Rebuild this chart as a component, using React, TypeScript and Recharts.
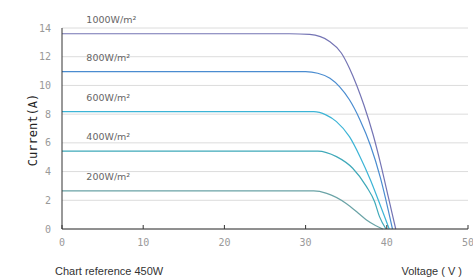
import React from "react";
import { LineChart, Line, XAxis, YAxis, CartesianGrid, ReferenceDot } from "recharts";

const xTicks = [0, 10, 20, 30, 40, 50];
const yTicks = [0, 2, 4, 6, 8, 10, 12, 14];

const curve1000 = [
  { v: 0, i: 13.6 }, { v: 28, i: 13.6 }, { v: 30.5, i: 13.55 }, { v: 33, i: 13.05 },
  { v: 34.4, i: 12.26 }, { v: 35.4, i: 11.2 }, { v: 36.3, i: 10.0 }, { v: 37.2, i: 8.6 },
  { v: 38.3, i: 6.6 }, { v: 39.3, i: 4.4 }, { v: 40.2, i: 2.2 }, { v: 41.1, i: 0 },
];
const curve800 = [
  { v: 0, i: 10.96 }, { v: 30, i: 10.96 }, { v: 31.5, i: 10.85 }, { v: 33, i: 10.5 },
  { v: 34.2, i: 9.9 }, { v: 35.4, i: 9.0 }, { v: 36.7, i: 7.6 }, { v: 38, i: 5.8 },
  { v: 39.2, i: 3.6 }, { v: 40.7, i: 0 },
];
const curve600 = [
  { v: 0, i: 8.17 }, { v: 31, i: 8.17 }, { v: 32.5, i: 7.95 }, { v: 33.8, i: 7.48 },
  { v: 35.4, i: 6.43 }, { v: 36.7, i: 5.04 }, { v: 38, i: 3.4 }, { v: 39.3, i: 1.5 },
  { v: 40.3, i: 0 },
];
const curve400 = [
  { v: 0, i: 5.43 }, { v: 31.5, i: 5.43 }, { v: 33.8, i: 5.04 }, { v: 35.8, i: 4.23 },
  { v: 37.5, i: 2.95 }, { v: 38.5, i: 1.9 }, { v: 39.1, i: 0.86 }, { v: 39.9, i: 0 },
];
const curve200 = [
  { v: 0, i: 2.65 }, { v: 31, i: 2.65 }, { v: 32.6, i: 2.48 }, { v: 35, i: 1.78 },
  { v: 36.5, i: 1.1 }, { v: 37.5, i: 0.63 }, { v: 38.6, i: 0.25 }, { v: 39.5, i: 0 },
];

const seriesNames = ["1000W/m²", "800W/m²", "600W/m²", "400W/m²", "200W/m²"];
const seriesData = [curve1000, curve800, curve600, curve400, curve200];
const seriesColors = ["#7474b4", "#4a8cd0", "#3cb4d6", "#3fa9b9", "#6aa3a6"];
const labelX = 3;

const NameLabel = (props: any) => {
  const { viewBox, value } = props;
  return (
    <text x={viewBox.x} y={viewBox.y - 11} fill="#666" fontSize={9.5} fontFamily="DejaVu Sans" textAnchor="start">
      {value}
    </text>
  );
};

export default function App() {
  return (
    <div style={{ position: "fixed", left: 0, top: 0, width: 473, height: 280, background: "#fff" }}>
      <LineChart width={473} height={280} margin={{ top: 28, right: 5, left: 0, bottom: 21 }}>
        <CartesianGrid horizontal vertical={false} stroke="#dcdcdc" />
        <XAxis
          type="number"
          dataKey="v"
          domain={[0, 50]}
          ticks={xTicks}
          allowDataOverflow
          stroke="#333"
          tickSize={-4}
          tickMargin={14}
          tick={{ fill: "#999", fontSize: 10, fontFamily: "DejaVu Sans Mono" }}
        />
        <YAxis
          type="number"
          domain={[0, 14]}
          ticks={yTicks}
          width={62}
          stroke="#333"
          tickLine={false}
          tickMargin={5}
          tick={{ fill: "#999", fontSize: 10, fontFamily: "DejaVu Sans Mono" }}
        />
        {seriesData.map((d, k) => (
          <Line
            key={seriesNames[k]}
            data={d}
            dataKey="i"
            type="monotone"
            stroke={seriesColors[k]}
            strokeWidth={1.2}
            dot={false}
            isAnimationActive={false}
          />
        ))}
        {seriesData.map((d, k) => (
          <ReferenceDot
            key={"l" + k}
            x={labelX}
            y={d[0].i}
            r={0}
            fill="none"
            stroke="none"
            label={<NameLabel value={seriesNames[k]} />}
          />
        ))}
        <text x={33} y={130} transform="rotate(-90 33 130)" textAnchor="middle" dominantBaseline="central" fontSize={12} fill="#222" fontFamily="DejaVu Sans Mono">
          Current(A)
        </text>
        <text x={55} y={275} fontSize={11} fill="#333" fontFamily="Liberation Sans">
          Chart reference 450W
        </text>
        <text x={462} y={275} textAnchor="end" fontSize={11} fill="#333" fontFamily="Liberation Sans">
          Voltage ( V )
        </text>
      </LineChart>
    </div>
  );
}
